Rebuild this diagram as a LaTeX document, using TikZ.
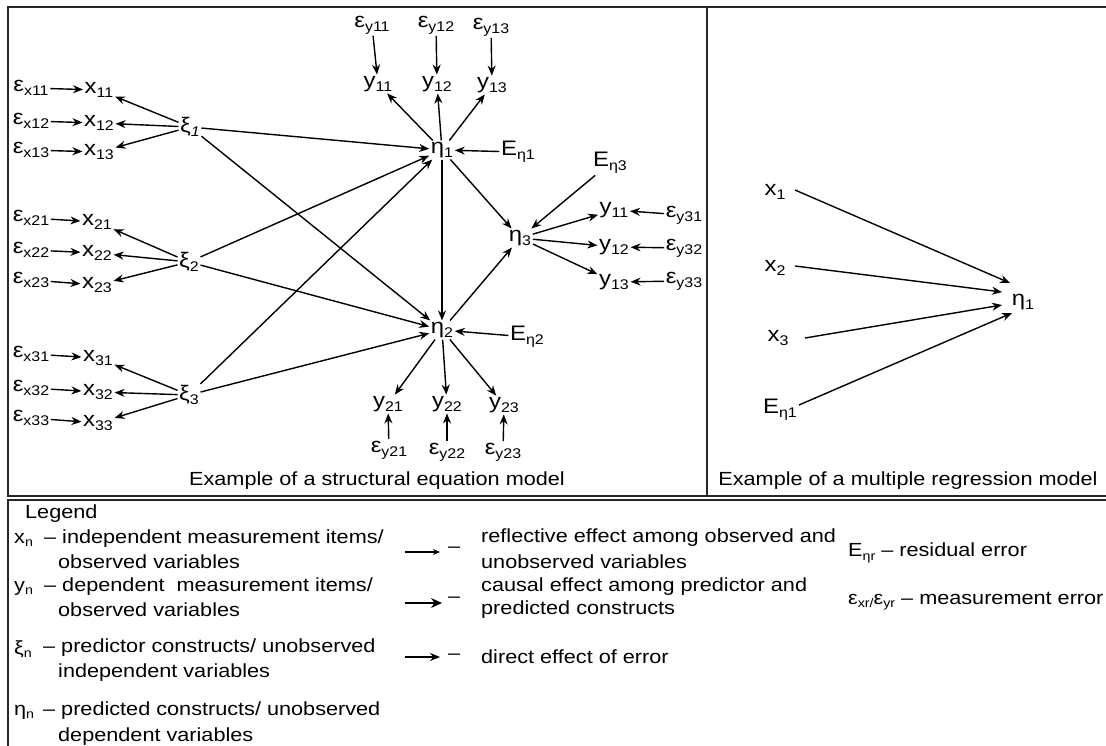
\documentclass[tikz,border=0pt]{standalone}
\usepackage{fontspec}
\setmainfont{Liberation Sans}[FakeStretch=1.14]
\usetikzlibrary{arrows.meta,calc}
\newcommand\lf{\fontsize{19}{22}\selectfont}
\newcommand\df{\fontsize{21}{24}\selectfont}
\newcommand\sbx[1]{\raisebox{-3.5pt}{\fontsize{12.5}{13}\selectfont #1}}
\newcommand\sbd[1]{\raisebox{-4pt}{\fontsize{14}{15}\selectfont #1}}
\tikzset{
  lbl/.style={inner sep=1.5pt, font=\df},
  captext/.style={inner sep=1.5pt, font=\lf},
  txt/.style={inner sep=0pt, anchor=west, font=\lf},
  arr/.style={-{Stealth[length=10pt,width=8pt]}, line width=1.4pt},
  frame/.style={line width=1.3pt, draw=black!85},
}
\begin{document}
\begin{tikzpicture}[x=1pt,y=-1pt]
\useasboundingbox (0,0) rectangle (1106,745);
\clip (0,0) rectangle (1106,745);
\fill[white] (0,0) rectangle (1106,745);
% frames
\draw[frame] (8,7) rectangle (1130,496);
\draw[frame] (707,7) -- (707,496);
\draw[frame] (8,500) rectangle (1130,770);

% ---- left measurement model ----
\node[lbl] (ex11) at (31,88) {ε\sbd{x11}};
\node[lbl] (ex12) at (31,121) {ε\sbd{x12}};
\node[lbl] (ex13) at (31,150) {ε\sbd{x13}};
\node[lbl] (x11) at (99,90) {x\sbd{11}};
\node[lbl] (x12) at (99,123) {x\sbd{12}};
\node[lbl] (x13) at (99,152) {x\sbd{13}};
\node[lbl] (xi1) at (190,127) {ξ\sbd{\itshape 1}};

\node[lbl] (ex21) at (31,218) {ε\sbd{x21}};
\node[lbl] (ex22) at (31,250) {ε\sbd{x22}};
\node[lbl] (ex23) at (31,280) {ε\sbd{x23}};
\node[lbl] (x21) at (97,222) {x\sbd{21}};
\node[lbl] (x22) at (97,253) {x\sbd{22}};
\node[lbl] (x23) at (97,285) {x\sbd{23}};
\node[lbl] (xi2) at (189,262) {ξ\sbd{2}};

\node[lbl] (ex31) at (31,354) {ε\sbd{x31}};
\node[lbl] (ex32) at (31,388) {ε\sbd{x32}};
\node[lbl] (ex33) at (31,418) {ε\sbd{x33}};
\node[lbl] (x31) at (98,358) {x\sbd{31}};
\node[lbl] (x32) at (98,392) {x\sbd{32}};
\node[lbl] (x33) at (98,423) {x\sbd{33}};
\node[lbl] (xi3) at (189,395) {ξ\sbd{3}};

\foreach \a/\b in {ex11/x11,ex12/x12,ex13/x13,ex21/x21,ex22/x22,ex23/x23,ex31/x31,ex32/x32,ex33/x33}
  \draw[arr] (\a) -- (\b);
\foreach \a/\b in {xi1/x11,xi1/x12,xi1/x13,xi2/x21,xi2/x22,xi2/x23,xi3/x31,xi3/x32,xi3/x33}
  \draw[arr] (\a) -- (\b);

% ---- eta1 ----
\node[lbl] (ey11) at (372,25) {ε\sbd{y11}};
\node[lbl] (ey12) at (436,25) {ε\sbd{y12}};
\node[lbl] (ey13) at (491,27) {ε\sbd{y13}};
\node[lbl] (y11) at (378,84) {y\sbd{11}};
\node[lbl] (y12) at (437,84) {y\sbd{12}};
\node[lbl] (y13) at (492,85) {y\sbd{13}};
\node[lbl] (eta1) at (442,150) {η\sbd{1}};
\node[lbl] (En1) at (518,152) {E\sbd{η1}};
\foreach \a/\b in {ey11/y11,ey12/y12,ey13/y13,eta1/y11,eta1/y12,eta1/y13,En1/eta1}
  \draw[arr] (\a) -- (\b);

% ---- eta3 ----
\node[lbl] (eta3) at (520,238) {η\sbd{3}};
\node[lbl] (En3) at (610,163) {E\sbd{η3}};
\node[lbl] (y31) at (614,210) {y\sbd{11}};
\node[lbl] (y32) at (614,247) {y\sbd{12}};
\node[lbl] (y33) at (614,282) {y\sbd{13}};
\node[lbl] (ey31) at (684,215) {ε\sbd{y31}};
\node[lbl] (ey32) at (684,248) {ε\sbd{y32}};
\node[lbl] (ey33) at (684,281) {ε\sbd{y33}};
\foreach \a/\b in {En3/eta3,eta3/y31,eta3/y32,eta3/y33,ey31/y31,ey32/y32,ey33/y33}
  \draw[arr] (\a) -- (\b);

% ---- eta2 ----
\node[lbl] (eta2) at (442,330) {η\sbd{2}};
\node[lbl] (En2) at (527,337) {E\sbd{η2}};
\node[lbl] (y21) at (388,404) {y\sbd{21}};
\node[lbl] (y22) at (447,404) {y\sbd{22}};
\node[lbl] (y23) at (504,405) {y\sbd{23}};
\node[lbl] (ey21) at (389,450) {ε\sbd{y21}};
\node[lbl] (ey22) at (447,452) {ε\sbd{y22}};
\node[lbl] (ey23) at (503,452) {ε\sbd{y23}};
\foreach \a/\b in {En2/eta2,eta2/y21,eta2/y22,eta2/y23,ey21/y21,ey22/y22,ey23/y23}
  \draw[arr] (\a) -- (\b);

% ---- structural paths ----
\foreach \a/\b in {xi1/eta1,xi2/eta1,xi3/eta1,xi1/eta2,xi2/eta2,xi3/eta2,eta1/eta2,eta1/eta3,eta2/eta3}
  \draw[arr] (\a) -- (\b);

\node[captext] (cap1) at (377,481) {Example of a structural equation model};

% ---- regression model ----
\node[lbl] (rx1) at (775,192) {x\sbd{1}};
\node[lbl] (rx2) at (775,268) {x\sbd{2}};
\node[lbl] (rx3) at (778,338) {x\sbd{3}};
\node[lbl] (rE) at (780,410) {E\sbd{η1}};
\node[lbl] (reta) at (1023,302) {η\sbd{1}};
\draw[arr] ($(rx1)+(20,-2)$) -- ($(reta)+(-13,-19)$);
\draw[arr] ($(rx2)+(20,-2)$) -- ($(reta)+(-21,-10)$);
\draw[arr] ($(rx3)+(27,0)$) -- ($(reta)+(-21,3)$);
\draw[arr] ($(rE)+(19,-5)$) -- ($(reta)+(-11,11)$);
\node[captext] (cap2) at (908,481) {Example of a multiple regression model};

% ---- legend ----
\node[txt] (leg) at (25,514) {Legend};
\node[txt] (lx) at (14,540) {x\sbx{n}};
\node[txt] (lxt) at (44,539) {– independent measurement items/};
\node[txt] (lxt2) at (58,562) {observed variables};
\node[txt] (ly) at (14,588) {y\sbx{n}};
\node[txt] (lyt) at (44,587) {– dependent\ \ measurement items/};
\node[txt] (lyt2) at (58,610) {observed variables};
\node[txt] (lxi) at (14,649) {ξ\sbx{n}};
\node[txt] (lxit) at (43,648) {– predictor constructs/ unobserved};
\node[txt] (lxit2) at (58,673) {independent variables};
\node[txt] (leta) at (14,712) {η\sbx{n}};
\node[txt] (letat) at (43,711) {– predicted constructs/ unobserved};
\node[txt] (letat2) at (58,737) {dependent variables};

\coordinate (la1) at (405,552); \coordinate (lb1) at (440,552);
\coordinate (la2) at (405,603); \coordinate (lb2) at (442,603);
\coordinate (la3) at (405,657); \coordinate (lb3) at (440,657);
\draw[-{Stealth[length=7pt,width=6pt]}, line width=1.1pt] (la1) -- (lb1);
\draw[-{Stealth[length=11pt,width=10pt]}, line width=1.5pt] (la2) -- (lb2);
\draw[-{Stealth[length=10pt,width=8pt]}, line width=1.4pt] (la3) -- (lb3);
\node[txt] (d1) at (448,550) {–};
\node[txt] (d2) at (448,600) {–};
\node[txt] (d3) at (448,657) {–};
\node[txt] (m1) at (481,538) {reflective effect among observed and};
\node[txt] (m1b) at (481,562) {unobserved variables};
\node[txt] (m2) at (481,587) {causal effect among predictor and};
\node[txt] (m2b) at (481,610) {predicted constructs};
\node[txt] (m3) at (481,657) {direct effect of error};

\node[txt] (r1) at (848,553) {E\sbx{ηr} – residual error};
\node[txt] (r2) at (848,601) {ε\sbx{xr/}ε\sbx{yr} – measurement error};
\end{tikzpicture}
\end{document}
